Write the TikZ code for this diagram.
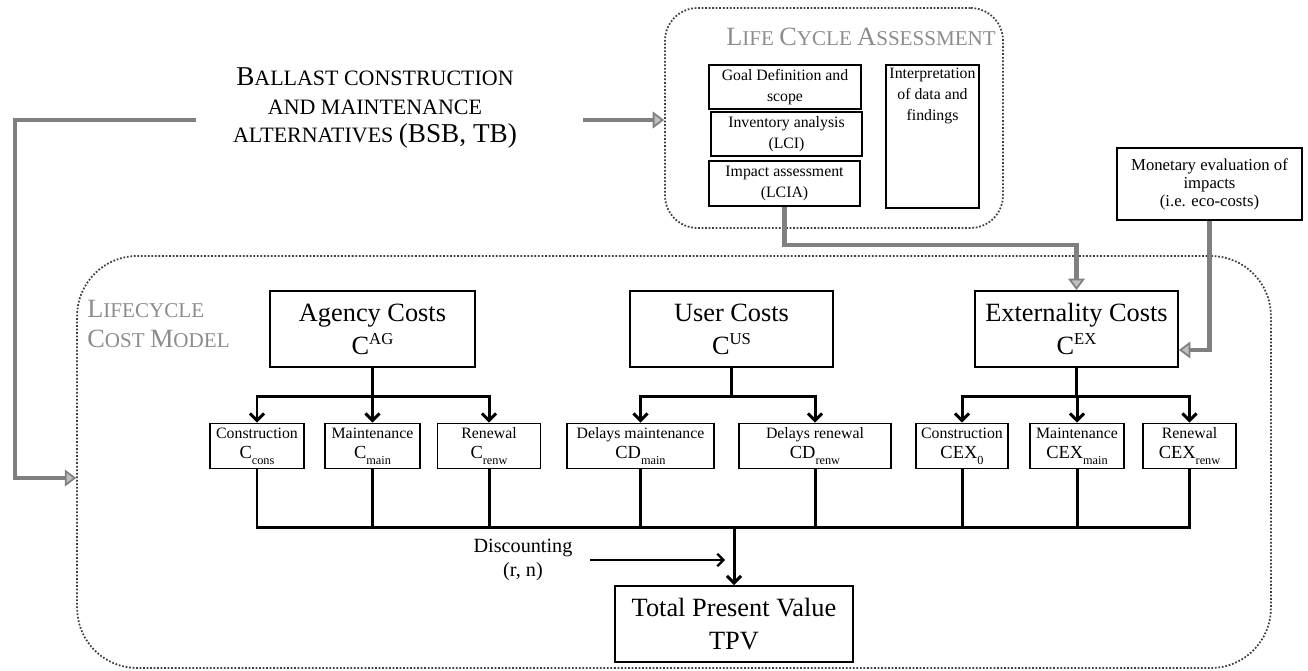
\documentclass[tikz,border=0pt]{standalone}
\usepackage{fontspec}
\setmainfont{Liberation Serif}
\usetikzlibrary{arrows.meta}

% big and small letters for the gray titles
\newcommand{\capL}[1]{{\fontsize{15}{17}\selectfont #1}}
\newcommand{\capS}[1]{{\fontsize{12}{17}\selectfont #1}}
% same for the ballast text
\newcommand{\balL}[1]{{\fontsize{15.5}{16.4}\selectfont #1}}
\newcommand{\balS}[1]{{\fontsize{12.5}{16.4}\selectfont #1}}
% cost symbol with a low index, and with a high one
\newcommand{\lowidx}[2]{{\fontsize{10.5}{11}\selectfont #1}\raisebox{-3.4pt}{\fontsize{7}{8}\selectfont #2}}
\newcommand{\highidx}[2]{#1\raisebox{5.5pt}{\fontsize{9.5}{10}\selectfont #2}}

\begin{document}
\begin{tikzpicture}[x=0.02cm,y=-0.02cm,
	costbox/.style={draw,line width=1.1pt,minimum height=1.52cm,align=center,font=\fontsize{15}{18.7}\selectfont,inner sep=1pt},
	subbox/.style={draw,line width=1.1pt,minimum height=0.9cm,align=center,font=\fontsize{9}{11.3}\selectfont,inner sep=1pt},
	lcastep/.style={draw,line width=1.1pt,align=center,font=\fontsize{9}{12}\selectfont,inner sep=1pt},
	region/.style={draw=black!75,densely dotted,line width=1pt},
	graytitle/.style={text=black!45,align=left,inner sep=0pt,font=\fontsize{12}{17}\selectfont},
	grayarrow/.style={draw=black!50,line width=2.8pt,-{Triangle[length=6.5pt,width=9.5pt,fill=black!25,line width=1pt]}},
	blackline/.style={line width=1.7pt},
	blackarrow/.style={blackline,-{Straight Barb[length=4pt,width=8pt]}},
	discarrow/.style={line width=1.3pt,-{Straight Barb[length=3.5pt,width=7pt]}}
	]
	\useasboundingbox (0,0) rectangle (1308,670);
	
	% the two dotted regions
	\node[region,rounded corners=1.2cm,minimum width=23.88cm,minimum height=8.24cm] (lcc) at (674,462) {};
	\node[region,rounded corners=0.65cm,minimum width=6.76cm,minimum height=4.4cm] (lca) at (834,118) {};
	
	\node[graytitle,anchor=west] (lcatitle) at (726,37)
	{\capL{L}\capS{IFE} \capL{C}\capS{YCLE} \capL{A}\capS{SSESSMENT}};
	\node[graytitle,anchor=north west] (lcctitle) at (87,300)
	{\capL{L}\capS{IFECYCLE}\\\capL{C}\capS{OST} \capL{M}\capS{ODEL}};
	
	% inside the assessment
	\node[lcastep,minimum width=3.04cm,minimum height=0.88cm] (goal) at (785,87) {Goal Definition and\\scope};
	\node[lcastep,minimum width=3.02cm,minimum height=0.88cm] (lci) at (786.5,134) {Inventory analysis\\(LCI)};
	\node[lcastep,minimum width=3.02cm,minimum height=0.9cm] (lcia) at (784.5,183.5) {Impact assessment\\(LCIA)};
	\node[lcastep,minimum width=1.86cm,minimum height=2.86cm] (interp) at (932.5,136.5) {};
	\node[anchor=north,align=center,inner sep=2pt,font=\fontsize{9}{12}\selectfont] (interptext) at (interp.north)
	{Interpretation\\of data and\\findings};
	
	\node[lcastep,minimum width=3.7cm,minimum height=1.44cm,font=\fontsize{9.5}{10.2}\selectfont] (money) at (1209.5,184)
	{Monetary evaluation of\\impacts\\(i.e. eco-costs)};
	
	\node[align=center,font=\fontsize{12.5}{16.4}\selectfont] (ballast) at (375,108)
	{\balL{B}\balS{ALLAST CONSTRUCTION}\\\balS{AND MAINTENANCE}\\\balS{ALTERNATIVES} \balL{(BSB, TB)}};
	
	% the three kinds of cost
	\node[costbox,minimum width=4.1cm] (ag) at (372.5,329) {Agency Costs\\\highidx{C}{AG}};
	\node[costbox,minimum width=4.06cm] (us) at (731.5,329) {User Costs\\\highidx{C}{US}};
	\node[costbox,minimum width=4.06cm] (ext) at (1076.5,329) {Externality Costs\\\highidx{C}{EX}};
	
	\node[subbox,minimum width=1.88cm] (a1) at (257,446) {Construction\\\lowidx{C}{cons}};
	\node[subbox,minimum width=1.9cm] (a2) at (372.5,446) {Maintenance\\\lowidx{C}{main}};
	\node[subbox,minimum width=2.06cm] (a3) at (489,446) {Renewal\\\lowidx{C}{renw}};
	\node[subbox,minimum width=2.94cm] (u1) at (640.5,446) {Delays maintenance\\\lowidx{CD}{main}};
	\node[subbox,minimum width=3.04cm] (u2) at (815,446) {Delays renewal\\\lowidx{CD}{renw}};
	\node[subbox,minimum width=1.84cm] (e1) at (962,446) {Construction\\\lowidx{CEX}{0}};
	\node[subbox,minimum width=1.88cm] (e2) at (1077,446) {Maintenance\\\lowidx{CEX}{main}};
	\node[subbox,minimum width=1.86cm] (e3) at (1189.5,446) {Renewal\\\lowidx{CEX}{renw}};
	
	\node[costbox,minimum width=4.76cm] (tpv) at (734,624) {Total Present Value\\TPV};
	\node[align=center,inner sep=1pt,font=\fontsize{11.5}{14}\selectfont] (disc) at (523,560) {Discounting\\(r, n)};
	
	% black tree
	\draw[blackline] (ag.south) -- ++(0,29) coordinate (agfork);
	\draw[blackline] (us.south) -- ++(0,29) coordinate (usfork);
	\draw[blackline] (ext.south) -- ++(0,29) coordinate (exfork);
	\foreach \s in {a1,a2,a3} \draw[blackarrow] (agfork) -| (\s.north);
	\foreach \s in {u1,u2} \draw[blackarrow] (usfork) -| (\s.north);
	\foreach \s in {e1,e2,e3} \draw[blackarrow] (exfork) -| (\s.north);
	
	\coordinate (sumbar) at (734,527);
	\foreach \s in {a1,a2,a3,u1,u2,e1,e2,e3} \draw[blackline] (\s.south) |- (sumbar);
	\draw[blackarrow] (sumbar) -- (tpv.north);
	\draw[discarrow] ([xshift=0.3cm]disc.east) -- ([xshift=-0.18cm]tpv.north |- disc.east);
	
	% gray flows
	\coordinate (balright) at (583,120);
	\coordinate (balleft) at (196,120);
	\coordinate (bend) at (15,478);
	\draw[grayarrow] (balright) -- (lca.west |- balright);
	\draw[grayarrow] (balleft) -| (bend) -- (lcc.west |- bend);
	\draw[grayarrow] (lcia.south) -- ++(0,38) -| (ext.north);
	\draw[grayarrow] (money.south) |- ([yshift=-0.42cm]ext.east);
	
\end{tikzpicture}
\end{document}
